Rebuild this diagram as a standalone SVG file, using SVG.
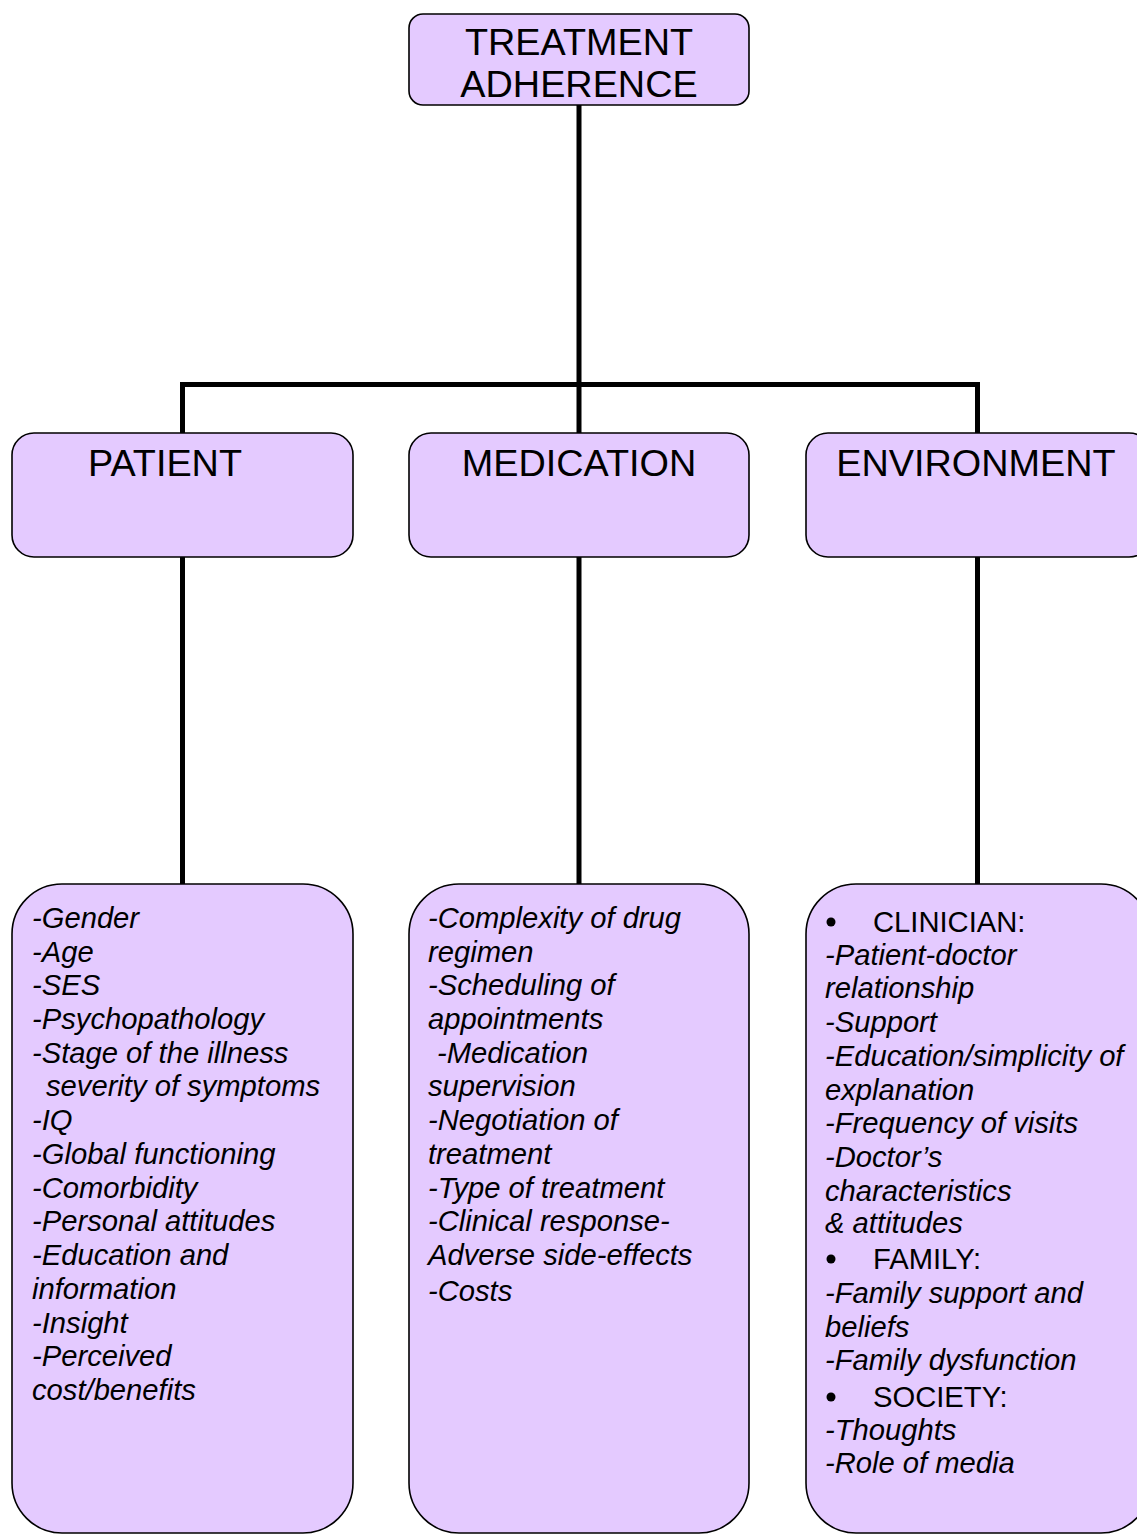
<svg xmlns="http://www.w3.org/2000/svg" width="1137" height="1535" viewBox="0 0 1137 1535">
  <style>
    .box { fill: #E4CAFF; stroke: #000; stroke-width: 1.6; }
    .link { fill: none; stroke: #000; stroke-width: 5; stroke-linecap: square; }
    .head { font-family: "Liberation Sans", Arial, sans-serif; font-size: 37.8px; fill: #000; text-anchor: middle; }
    .item { font-family: "Liberation Sans", Arial, sans-serif; font-size: 29.2px; fill: #000; font-style: italic; }
    .cat { font-family: "Liberation Sans", Arial, sans-serif; font-size: 29.2px; fill: #000; }
  </style>
  <rect width="1137" height="1535" fill="#fff"/>

  <!-- connectors -->
  <g id="connectors">
    <path class="link" d="M579 106 V384.5"/>
    <path class="link" d="M182.5 432 V384.5 H977.5 V432"/>
    <path class="link" d="M579 384.5 V432"/>
    <path class="link" d="M182.5 558 V883"/>
    <path class="link" d="M579 558 V883"/>
    <path class="link" d="M977.5 558 V883"/>
  </g>

  <g id="root">
    <rect class="box" x="409" y="14" width="340" height="91" rx="14"/>
    <text class="head" x="579" y="55">TREATMENT</text>
    <text class="head" x="579" y="97">ADHERENCE</text>
  </g>

  <g id="patient">
    <rect class="box" x="12" y="433" width="341" height="124" rx="22"/>
    <text class="head" x="165" y="476">PATIENT</text>
  </g>

  <g id="medication">
    <rect class="box" x="409" y="433" width="340" height="124" rx="22"/>
    <text class="head" x="579" y="476">MEDICATION</text>
  </g>

  <g id="environment">
    <rect class="box" x="806" y="433" width="345" height="124" rx="22"/>
    <text class="head" x="976" y="476">ENVIRONMENT</text>
  </g>

  <g id="patient-factors">
    <rect class="box" x="12" y="884" width="341" height="649" rx="50"/>
    <text class="item">
      <tspan x="32" y="928">-Gender</tspan>
      <tspan x="32" y="962">-Age</tspan>
      <tspan x="32" y="995">-SES</tspan>
      <tspan x="32" y="1029">-Psychopathology</tspan>
      <tspan x="32" y="1063">-Stage of the illness</tspan>
      <tspan x="46" y="1096">severity of symptoms</tspan>
      <tspan x="32" y="1130">-IQ</tspan>
      <tspan x="32" y="1164">-Global functioning</tspan>
      <tspan x="32" y="1198">-Comorbidity</tspan>
      <tspan x="32" y="1231">-Personal attitudes</tspan>
      <tspan x="32" y="1265">-Education and</tspan>
      <tspan x="32" y="1299">information</tspan>
      <tspan x="32" y="1333">-Insight</tspan>
      <tspan x="32" y="1366">-Perceived</tspan>
      <tspan x="32" y="1400">cost/benefits</tspan>
    </text>
  </g>

  <g id="medication-factors">
    <rect class="box" x="409" y="884" width="340" height="649" rx="50"/>
    <text class="item">
      <tspan x="428" y="928">-Complexity of drug</tspan>
      <tspan x="428" y="962">regimen</tspan>
      <tspan x="428" y="995">-Scheduling of</tspan>
      <tspan x="428" y="1029">appointments</tspan>
      <tspan x="437" y="1063">-Medication</tspan>
      <tspan x="428" y="1096">supervision</tspan>
      <tspan x="428" y="1130">-Negotiation of</tspan>
      <tspan x="428" y="1164">treatment</tspan>
      <tspan x="428" y="1198">-Type of treatment</tspan>
      <tspan x="428" y="1231">-Clinical response-</tspan>
      <tspan x="428" y="1265">Adverse side-effects</tspan>
      <tspan x="428" y="1301">-Costs</tspan>
    </text>
  </g>

  <g id="environment-factors">
    <rect class="box" x="806" y="884" width="345" height="649" rx="50"/>
    <circle cx="831" cy="922" r="4.5" fill="#000"/>
    <text class="cat" x="873" y="932">CLINICIAN:</text>
    <text class="item">
      <tspan x="825" y="965">-Patient-doctor</tspan>
      <tspan x="825" y="998">relationship</tspan>
      <tspan x="825" y="1032">-Support</tspan>
      <tspan x="825" y="1066">-Education/simplicity of</tspan>
      <tspan x="825" y="1100">explanation</tspan>
      <tspan x="825" y="1133">-Frequency of visits</tspan>
      <tspan x="825" y="1167">-Doctor’s</tspan>
      <tspan x="825" y="1201">characteristics</tspan>
      <tspan x="825" y="1233">&amp; attitudes</tspan>
    </text>
    <circle cx="831" cy="1259" r="4.5" fill="#000"/>
    <text class="cat" x="873" y="1269">FAMILY:</text>
    <text class="item">
      <tspan x="825" y="1303">-Family support and</tspan>
      <tspan x="825" y="1337">beliefs</tspan>
      <tspan x="825" y="1370">-Family dysfunction</tspan>
    </text>
    <circle cx="831" cy="1397" r="4.5" fill="#000"/>
    <text class="cat" x="873" y="1407">SOCIETY:</text>
    <text class="item">
      <tspan x="825" y="1440">-Thoughts</tspan>
      <tspan x="825" y="1473">-Role of media</tspan>
    </text>
  </g>
</svg>
